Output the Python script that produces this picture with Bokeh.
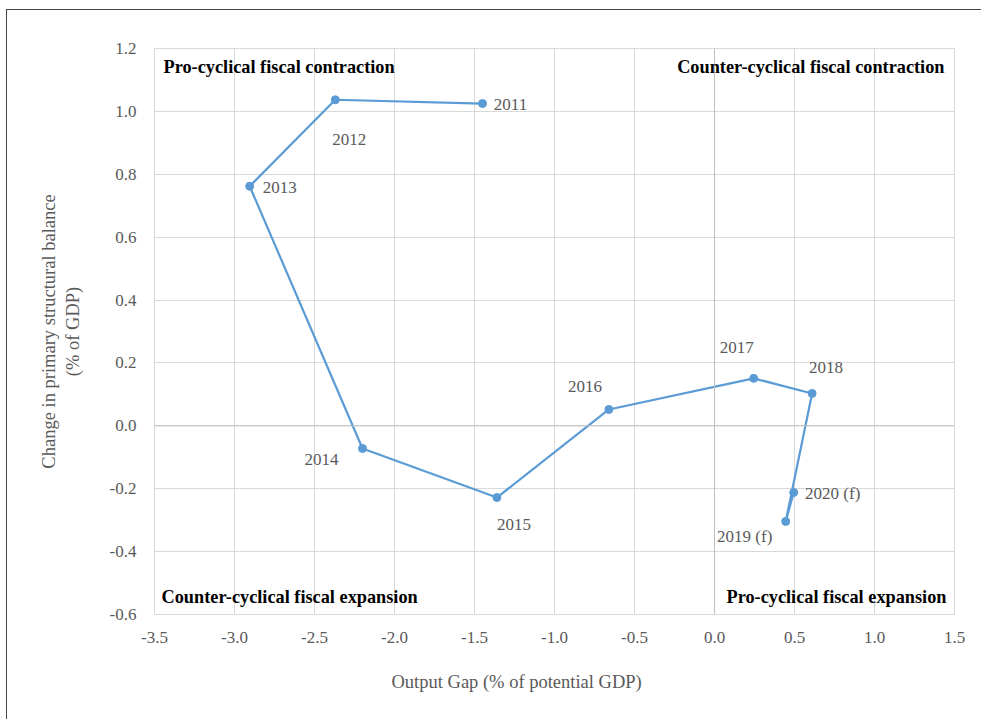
from bokeh.plotting import figure
from bokeh.models import ColumnDataSource, Label, Span, NumeralTickFormatter, Title
from bokeh.embed import file_html
from bokeh.resources import INLINE
from bokeh.core.properties import value

# ---- data ----
years = ["2011", "2012", "2013", "2014", "2015", "2016", "2017", "2018", "2019 (f)", "2020 (f)"]
output_gap = [-1.45, -2.37, -2.905, -2.20, -1.36, -0.66, 0.245, 0.61, 0.445, 0.495]
struct_balance_change = [1.025, 1.037, 0.762, -0.072, -0.228, 0.052, 0.151, 0.103, -0.304, -0.212]

x_ticks = [-3.5, -3.0, -2.5, -2.0, -1.5, -1.0, -0.5, 0.0, 0.5, 1.0, 1.5]
y_ticks = [-0.6, -0.4, -0.2, 0.0, 0.2, 0.4, 0.6, 0.8, 1.0, 1.2]

x_title = "Output Gap (% of potential GDP)"
y_title = "Change in primary structural balance\n(% of GDP)"
quadrant_labels = ["Pro-cyclical fiscal contraction", "Counter-cyclical fiscal contraction",
                   "Counter-cyclical fiscal expansion", "Pro-cyclical fiscal expansion"]

# label offsets (screen px, style only)
lab_dx = [28, 14, 30, -41, 17, -24, -17, 14, -41, 39]
lab_dy = [1, 40, 1, 11, 27, -23, -31, -26, 15, 1]

SERIF = "Liberation Serif"
GREY = "#595959"
BLUE = "#5B9BD5"

src = ColumnDataSource(dict(x=output_gap, y=struct_balance_change, year=years, dx=lab_dx, dy=lab_dy))

p = figure(width=975, height=710, output_backend="svg", toolbar_location=None,
           x_range=(x_ticks[0], x_ticks[-1]), y_range=(y_ticks[0], y_ticks[-1]),
           min_border_left=147, min_border_right=28, min_border_top=38, min_border_bottom=106)
p.styles = {"border-left": "1px solid #444", "border-top": "1px solid #444",
            "margin-left": "6px", "margin-top": "9px"}

p.outline_line_color = "#d9d9d9"
p.grid.grid_line_color = "#d9d9d9"
p.grid.grid_line_width = 1
p.xaxis.ticker = x_ticks
p.yaxis.ticker = y_ticks
p.xaxis.formatter = NumeralTickFormatter(format="0.0")
p.yaxis.formatter = NumeralTickFormatter(format="0.0")
for ax in (p.xaxis, p.yaxis):
    ax.axis_line_color = None
    ax.major_tick_line_color = None
    ax.minor_tick_line_color = None
    ax.major_label_text_font = SERIF
    ax.major_label_text_font_size = "17px"
    ax.major_label_text_color = GREY
    ax.axis_label_text_font = SERIF
    ax.axis_label_text_font_size = "18.5px"
    ax.axis_label_text_color = GREY
    ax.axis_label_text_font_style = "normal"
p.xaxis.major_label_standoff = 11
p.yaxis.major_label_standoff = 12
p.yaxis.axis_label = y_title
p.yaxis.axis_label_standoff = 24

# invisible spacer label to push the x title down
p.xaxis.axis_label = "\u00a0"
p.xaxis.axis_label_text_font_size = "2px"
p.xaxis.axis_label_standoff = 14

# x-axis title, offset left of centre as in the original
p.add_layout(Title(text=x_title, align="left", offset=237, standoff=10,
                   text_font=SERIF, text_font_size="18.5px", text_color=GREY,
                   text_font_style="normal"), "below")

p.add_layout(Span(location=0, dimension="height", line_color="#bfbfbf", line_width=1))
p.add_layout(Span(location=0, dimension="width", line_color="#bfbfbf", line_width=1))

p.line("x", "y", source=src, line_color=BLUE, line_width=2.2)
p.scatter("x", "y", source=src, size=8, fill_color=BLUE, line_color=BLUE)
p.text("x", "y", text="year", source=src, x_offset="dx", y_offset="dy",
       text_align="center", text_baseline="middle", text_font=value(SERIF),
       text_font_size="17px", text_color=GREY)

qpos = [(x_ticks[0], y_ticks[-1], "left", "top", 9, -8),
        (x_ticks[-1], y_ticks[-1], "right", "top", -10, -8),
        (x_ticks[0], y_ticks[0], "left", "bottom", 7, 8),
        (x_ticks[-1], y_ticks[0], "right", "bottom", -8, 8)]
for txt, (lx, ly, al, bl, ox, oy) in zip(quadrant_labels, qpos):
    p.add_layout(Label(x=lx, y=ly, text=txt, text_align=al, text_baseline=bl,
                       x_offset=ox, y_offset=oy, text_font=SERIF, text_font_size="18.3px",
                       text_font_style="bold", text_color="black"))

open("out.html", "w").write(file_html(p, INLINE))
